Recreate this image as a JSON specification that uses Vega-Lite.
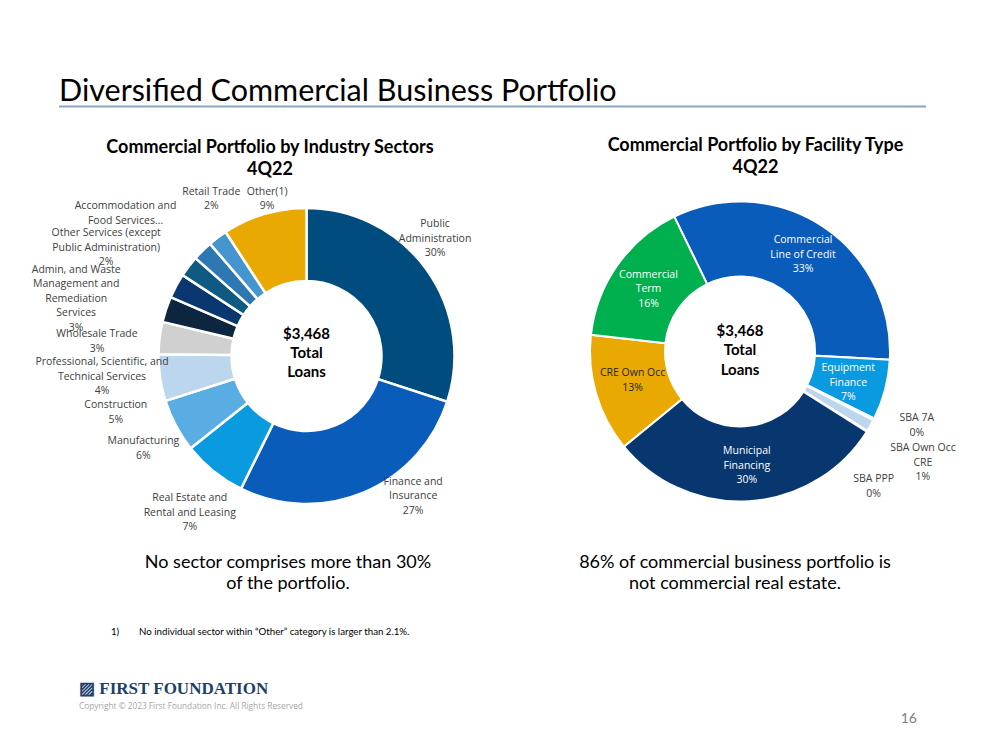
{
  "$schema": "https://vega.github.io/schema/vega-lite/v6.json",
  "background": "white",
  "padding": {"left": 31, "top": 76.5, "right": 5, "bottom": 5},
  "bounds": "flush",
  "columns": 2,
  "spacing": {"row": 0, "column": 0},
  "resolve": {"scale": {"color": "independent", "theta": "independent"}},
  "config": {"view": {"stroke": null}, "font": "Lato", "title": {"font": "Lato"}},
  "concat": [
    {
      "width": 495,
      "height": 78.5,
      "title": {"text": "Diversified Commercial Business Portfolio", "anchor": "start", "frame": "group", "fontSize": 30.5, "fontWeight": "normal", "color": "#000000", "baseline": "alphabetic", "offset": -25.5},
      "layer": [
        {
          "data": {"values": [{"line": 1}]},
          "mark": {"type": "rule", "color": "#8aa4c0", "strokeWidth": 2},
          "encoding": {"y": {"field": "line", "type": "quantitative", "axis": null, "scale": {"domain": [0, 1]}}}
        },
        {
          "data": {"values": [{"heading": "Commercial Portfolio by Industry Sectors\n4Q22"}]},
          "mark": {"type": "text", "font": "Lato", "fontWeight": "bold", "fontSize": 18, "lineHeight": 22.5, "lineBreak": "\n", "color": "#000000", "align": "center", "baseline": "middle", "dx": -36.5, "dy": 2},
          "encoding": {"text": {"field": "heading"}}
        }
      ]
    },
    {
      "width": 372,
      "height": 78.5,
      "layer": [
        {
          "data": {"values": [{"line": 1}]},
          "mark": {"type": "rule", "color": "#8aa4c0", "strokeWidth": 2},
          "encoding": {"y": {"field": "line", "type": "quantitative", "axis": null, "scale": {"domain": [0, 1]}}}
        },
        {
          "data": {"values": [{"heading": "Commercial Portfolio by Facility Type\n4Q22"}]},
          "mark": {"type": "text", "font": "Lato", "fontWeight": "bold", "fontSize": 18, "lineHeight": 22.5, "lineBreak": "\n", "color": "#000000", "align": "center", "baseline": "middle", "dx": 15.5},
          "encoding": {"text": {"field": "heading"}}
        }
      ]
    },
    {
      "width": 495,
      "height": 341,
      "layer": [
        {
          "data": {"values": [
            {"rank": 1, "sector": "Public Administration", "share": 30.0, "label": "Public\nAdministration\n30%"},
            {"rank": 2, "sector": "Finance and Insurance", "share": 27.3, "label": "Finance and\nInsurance\n27%"},
            {"rank": 3, "sector": "Real Estate and Rental and Leasing", "share": 7.0, "label": "Real Estate and\nRental and Leasing\n7%"},
            {"rank": 4, "sector": "Manufacturing", "share": 5.8, "label": "Manufacturing\n6%"},
            {"rank": 5, "sector": "Construction", "share": 5.1, "label": "Construction\n5%"},
            {"rank": 6, "sector": "Professional, Scientific, and Technical Services", "share": 3.5, "label": "Professional, Scientific, and\nTechnical Services\n4%"},
            {"rank": 7, "sector": "Wholesale Trade", "share": 2.8, "label": "Wholesale Trade\n3%"},
            {"rank": 8, "sector": "Admin, and Waste Management and Remediation Services", "share": 2.7, "label": "Admin, and Waste\nManagement and\nRemediation\nServices\n3%"},
            {"rank": 9, "sector": "Other Services (except Public Administration)", "share": 2.3, "label": "Other Services (except\nPublic Administration)\n2%"},
            {"rank": 10, "sector": "Accommodation and Food Services", "share": 2.2, "label": "Accommodation and\nFood Services…"},
            {"rank": 11, "sector": "Retail Trade", "share": 2.1, "label": "Retail Trade\n2%"},
            {"rank": 12, "sector": "Other(1)", "share": 9.2, "label": "Other(1)\n9%"}
          ]},
          "encoding": {
            "theta": {"field": "share", "type": "quantitative", "stack": true},
            "order": {"field": "rank", "type": "quantitative"}
          },
          "layer": [
            {
              "mark": {"type": "arc", "innerRadius": 75, "outerRadius": 148, "stroke": "white", "strokeWidth": 2.5},
              "encoding": {
                "color": {"field": "sector", "type": "nominal", "legend": null,
                  "scale": {
                    "domain": ["Public Administration", "Finance and Insurance", "Real Estate and Rental and Leasing", "Manufacturing", "Construction", "Professional, Scientific, and Technical Services", "Wholesale Trade", "Admin, and Waste Management and Remediation Services", "Other Services (except Public Administration)", "Accommodation and Food Services", "Retail Trade", "Other(1)"],
                    "range": ["#014c7f", "#0a5cba", "#0a9ae0", "#5aade3", "#bcd6ee", "#d0d0d0", "#0c2640", "#0b3770", "#0f5a82", "#2d78b2", "#4596cf", "#eaa900"]
                  }}
              }
            },
            {
              "mark": {"type": "text", "radius": 184, "thetaOffset": -0.169, "font": "Open Sans", "fontSize": 10.5, "lineHeight": 14.5, "lineBreak": "\n", "color": "#404040", "align": "center", "baseline": "middle"},
              "encoding": {"text": {"condition": {"test": "datum.sector === 'Public Administration'", "field": "label"}, "value": ""}}
            },
            {
              "mark": {"type": "text", "radius": 165, "thetaOffset": -0.304, "font": "Open Sans", "fontSize": 10.5, "lineHeight": 14.5, "lineBreak": "\n", "color": "#404040", "align": "center", "baseline": "middle"},
              "encoding": {"text": {"condition": {"test": "datum.sector === 'Finance and Insurance'", "field": "label"}, "value": ""}}
            },
            {
              "mark": {"type": "text", "radius": 184, "thetaOffset": 0.009, "font": "Open Sans", "fontSize": 10.5, "lineHeight": 14.5, "lineBreak": "\n", "color": "#404040", "align": "center", "baseline": "middle"},
              "encoding": {"text": {"condition": {"test": "indexof(['Real Estate and Rental and Leasing','Manufacturing'], datum.sector) >= 0", "field": "label"}, "value": ""}}
            },
            {
              "mark": {"type": "text", "radius": 197, "thetaOffset": -0.106, "font": "Open Sans", "fontSize": 10.5, "lineHeight": 14.5, "lineBreak": "\n", "color": "#404040", "align": "center", "baseline": "middle"},
              "encoding": {"text": {"condition": {"test": "datum.sector === 'Construction'", "field": "label"}, "value": ""}}
            },
            {
              "mark": {"type": "text", "radius": 204.6, "thetaOffset": -0.154, "font": "Open Sans", "fontSize": 10.5, "lineHeight": 14.5, "lineBreak": "\n", "color": "#404040", "align": "center", "baseline": "middle"},
              "encoding": {"text": {"condition": {"test": "datum.sector === 'Professional, Scientific, and Technical Services'", "field": "label"}, "value": ""}}
            },
            {
              "mark": {"type": "text", "radius": 210.6, "thetaOffset": -0.218, "font": "Open Sans", "fontSize": 10.5, "lineHeight": 14.5, "lineBreak": "\n", "color": "#404040", "align": "center", "baseline": "middle"},
              "encoding": {"text": {"condition": {"test": "datum.sector === 'Wholesale Trade'", "field": "label"}, "value": ""}}
            },
            {
              "mark": {"type": "text", "radius": 246, "thetaOffset": -0.134, "font": "Open Sans", "fontSize": 10.5, "lineHeight": 14.5, "lineBreak": "\n", "color": "#404040", "align": "center", "baseline": "middle"},
              "encoding": {"text": {"condition": {"test": "datum.sector === 'Admin, and Waste Management and Remediation Services'", "field": "label"}, "value": ""}}
            },
            {
              "mark": {"type": "text", "radius": 235, "thetaOffset": -0.1, "font": "Open Sans", "fontSize": 10.5, "lineHeight": 14.5, "lineBreak": "\n", "color": "#404040", "align": "center", "baseline": "middle"},
              "encoding": {"text": {"condition": {"test": "indexof(['Other Services (except Public Administration)','Accommodation and Food Services'], datum.sector) >= 0", "field": "label"}, "value": ""}}
            },
            {
              "mark": {"type": "text", "radius": 190, "thetaOffset": 0.119, "font": "Open Sans", "fontSize": 10.5, "lineHeight": 14.5, "lineBreak": "\n", "color": "#404040", "align": "center", "baseline": "middle"},
              "encoding": {"text": {"condition": {"test": "datum.sector === 'Retail Trade'", "field": "label"}, "value": ""}}
            },
            {
              "mark": {"type": "text", "radius": 169, "thetaOffset": 0.054, "font": "Open Sans", "fontSize": 10.5, "lineHeight": 14.5, "lineBreak": "\n", "color": "#404040", "align": "center", "baseline": "middle"},
              "encoding": {"text": {"condition": {"test": "datum.sector === 'Other(1)'", "field": "label"}, "value": ""}}
            }
          ]
        },
        {
          "data": {"values": [{"caption": "$3,468\nTotal\nLoans"}]},
          "mark": {"type": "text", "font": "Lato", "fontWeight": "bold", "fontSize": 15, "lineHeight": 19, "lineBreak": "\n", "color": "#000000", "align": "center", "baseline": "middle", "dy": -22.5},
          "encoding": {"text": {"field": "caption"}}
        }
      ]
    },
    {
      "width": 372,
      "height": 332,
      "layer": [
        {
          "data": {"values": [
            {"rank": 1, "facility": "Commercial Line of Credit", "share": 33.1, "label": "Commercial\nLine of Credit\n33%"},
            {"rank": 2, "facility": "Equipment Finance", "share": 6.5, "label": "Equipment\nFinance\n7%"},
            {"rank": 3, "facility": "SBA 7A", "share": 0.2, "label": "SBA 7A\n0%"},
            {"rank": 4, "facility": "SBA Own Occ CRE", "share": 1.3, "label": "SBA Own Occ\nCRE\n1%"},
            {"rank": 5, "facility": "SBA PPP", "share": 0.1, "label": "SBA PPP\n0%"},
            {"rank": 6, "facility": "Municipal Financing", "share": 30.1, "label": "Municipal\nFinancing\n30%"},
            {"rank": 7, "facility": "CRE Own Occ", "share": 12.7, "label": "CRE Own Occ\n13%"},
            {"rank": 8, "facility": "Commercial Term", "share": 16.0, "label": "Commercial\nTerm\n16%"}
          ]},
          "encoding": {
            "theta": {"field": "share", "type": "quantitative", "stack": true, "scale": {"range": [-0.4538, 5.8294]}},
            "order": {"field": "rank", "type": "quantitative"}
          },
          "layer": [
            {
              "mark": {"type": "arc", "innerRadius": 75, "outerRadius": 150, "stroke": "white", "strokeWidth": 2},
              "encoding": {
                "color": {"field": "facility", "type": "nominal", "legend": null,
                  "scale": {
                    "domain": ["Commercial Line of Credit", "Equipment Finance", "SBA 7A", "SBA Own Occ CRE", "SBA PPP", "Municipal Financing", "CRE Own Occ", "Commercial Term"],
                    "range": ["#0a5cba", "#0a9ae0", "#9fbfdc", "#bcd6ee", "#d9d9d9", "#07376e", "#eaa900", "#00b04f"]
                  }}
              }
            },
            {
              "mark": {"type": "text", "radius": 114, "dy": -16.5, "font": "Open Sans", "fontSize": 10.5, "lineHeight": 14.5, "lineBreak": "\n", "color": "#ffffff", "align": "center", "baseline": "middle"},
              "encoding": {"text": {"condition": {"test": "datum.facility === 'Commercial Line of Credit'", "field": "label"}, "value": ""}}
            },
            {
              "mark": {"type": "text", "radius": 112, "dy": -12, "font": "Open Sans", "fontSize": 10.5, "lineHeight": 14.5, "lineBreak": "\n", "color": "#ffffff", "align": "center", "baseline": "middle"},
              "encoding": {"text": {"condition": {"test": "indexof(['Equipment Finance','Municipal Financing','Commercial Term'], datum.facility) >= 0", "field": "label"}, "value": ""}}
            },
            {
              "mark": {"type": "text", "radius": 112, "dy": -10, "font": "Open Sans", "fontSize": 10.5, "lineHeight": 14.5, "lineBreak": "\n", "color": "#262626", "align": "center", "baseline": "middle"},
              "encoding": {"text": {"condition": {"test": "datum.facility === 'CRE Own Occ'", "field": "label"}, "value": ""}}
            },
            {
              "mark": {"type": "text", "radius": 189, "thetaOffset": -0.108, "font": "Open Sans", "fontSize": 10.5, "lineHeight": 14.5, "lineBreak": "\n", "color": "#404040", "align": "center", "baseline": "middle"},
              "encoding": {"text": {"condition": {"test": "datum.facility === 'SBA 7A'", "field": "label"}, "value": ""}}
            },
            {
              "mark": {"type": "text", "radius": 207, "thetaOffset": -0.03, "font": "Open Sans", "fontSize": 10.5, "lineHeight": 14.5, "lineBreak": "\n", "color": "#404040", "align": "center", "baseline": "middle"},
              "encoding": {"text": {"condition": {"test": "datum.facility === 'SBA Own Occ CRE'", "field": "label"}, "value": ""}}
            },
            {
              "mark": {"type": "text", "radius": 185, "thetaOffset": 0.2025, "font": "Open Sans", "fontSize": 10.5, "lineHeight": 14.5, "lineBreak": "\n", "color": "#404040", "align": "center", "baseline": "middle"},
              "encoding": {"text": {"condition": {"test": "datum.facility === 'SBA PPP'", "field": "label"}, "value": ""}}
            }
          ]
        },
        {
          "data": {"values": [{"caption": "$3,468\nTotal\nLoans"}]},
          "mark": {"type": "text", "font": "Lato", "fontWeight": "bold", "fontSize": 15, "lineHeight": 19.5, "lineBreak": "\n", "color": "#000000", "align": "center", "baseline": "middle", "dy": -21},
          "encoding": {"text": {"field": "caption"}}
        }
      ]
    },
    {
      "width": 458,
      "height": 72,
      "data": {"values": [{"note": "No sector comprises more than 30%\nof the portfolio."}]},
      "mark": {"type": "text", "font": "Lato", "fontSize": 18, "lineHeight": 21, "lineBreak": "\n", "color": "#000000", "align": "center", "baseline": "middle"},
      "encoding": {"text": {"field": "note"}}
    },
    {
      "width": 362,
      "height": 72,
      "data": {"values": [{"note": "86% of commercial business portfolio is\nnot commercial real estate."}]},
      "mark": {"type": "text", "font": "Lato", "fontSize": 18, "lineHeight": 21, "lineBreak": "\n", "color": "#000000", "align": "center", "baseline": "middle"},
      "encoding": {"text": {"field": "note"}}
    },
    {
      "width": 495,
      "height": 36,
      "title": {"text": "1)\u00a0\u00a0\u00a0\u00a0\u00a0\u00a0\u00a0\u00a0No individual sector within “Other” category is larger than 2.1%.", "orient": "bottom", "anchor": "start", "frame": "group", "baseline": "alphabetic", "offset": 0, "dx": 52, "fontSize": 9.7, "fontWeight": "normal", "color": "#000000"},
      "data": {"values": [{"blank": ""}]},
      "mark": {"type": "text"},
      "encoding": {"text": {"field": "blank"}}
    },
    {
      "width": 372,
      "height": 36,
      "data": {"values": [{"blank": ""}]},
      "mark": {"type": "text"},
      "encoding": {"text": {"field": "blank"}}
    },
    {
      "width": 495,
      "height": 59,
      "title": {"text": "▨\u00a0FIRST FOUNDATION", "orient": "bottom", "anchor": "start", "frame": "group", "baseline": "alphabetic", "offset": 0, "dx": 20, "font": "Liberation Serif", "fontSize": 17, "fontWeight": "bold", "color": "#1c3f6e"},
      "data": {"values": [{"blank": ""}]},
      "mark": {"type": "text"},
      "encoding": {"text": {"field": "blank"}}
    },
    {
      "width": 372,
      "height": 59,
      "data": {"values": [{"blank": ""}]},
      "mark": {"type": "text"},
      "encoding": {"text": {"field": "blank"}}
    },
    {
      "width": 495,
      "height": 15,
      "title": {"text": "Copyright © 2023 First Foundation Inc. All Rights Reserved", "orient": "bottom", "anchor": "start", "frame": "group", "baseline": "alphabetic", "offset": 0, "dx": 20, "font": "Open Sans", "fontSize": 8.3, "fontWeight": "normal", "color": "#a6a6a6"},
      "data": {"values": [{"blank": ""}]},
      "mark": {"type": "text"},
      "encoding": {"text": {"field": "blank"}}
    },
    {
      "width": 372,
      "height": 15,
      "title": {"text": "16", "orient": "bottom", "anchor": "end", "frame": "group", "baseline": "alphabetic", "offset": 14, "dx": -9, "fontSize": 14, "fontWeight": "normal", "color": "#808080"},
      "data": {"values": [{"blank": ""}]},
      "mark": {"type": "text"},
      "encoding": {"text": {"field": "blank"}}
    }
  ]
}
